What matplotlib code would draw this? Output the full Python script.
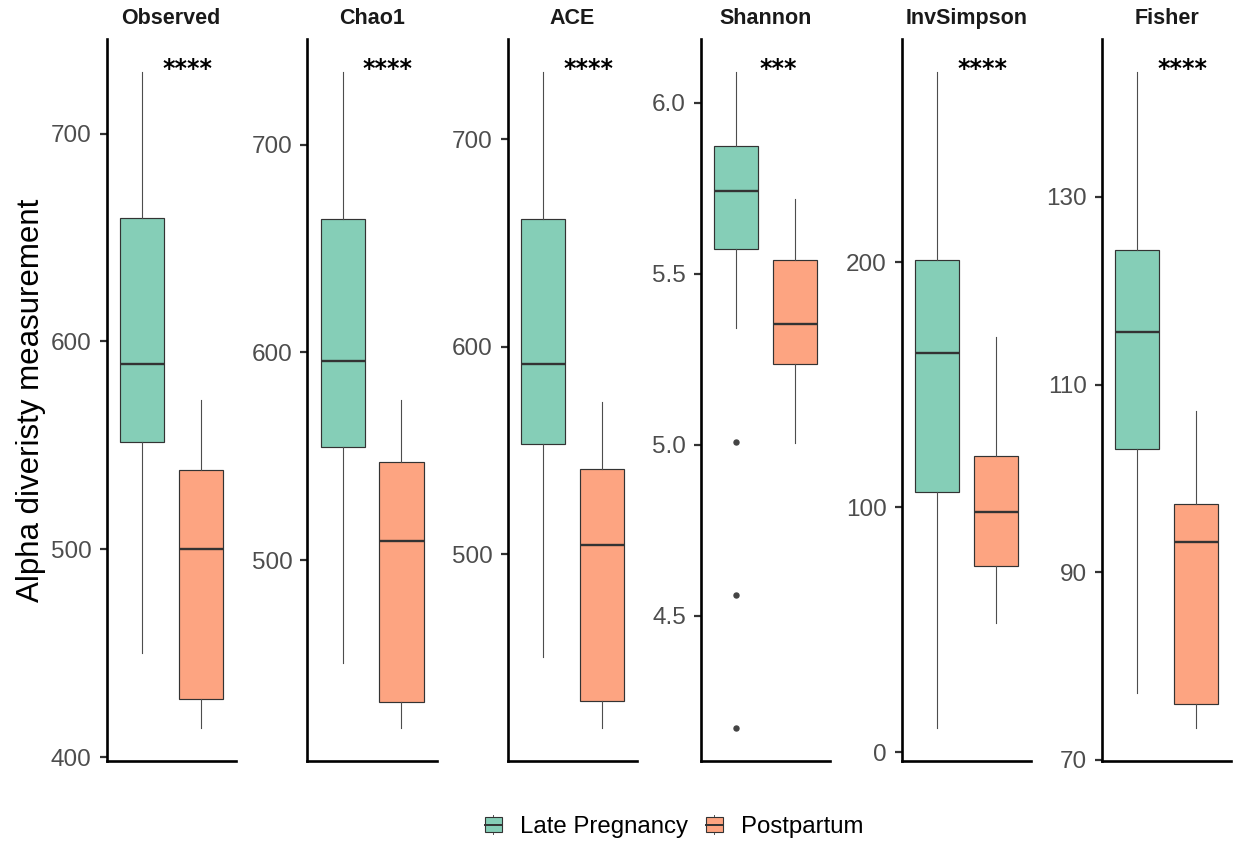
import matplotlib
matplotlib.use("Agg")
import matplotlib.pyplot as plt
from matplotlib.legend_handler import HandlerBase
from matplotlib.patches import Rectangle, Patch
from matplotlib.lines import Line2D
from matplotlib.ticker import FormatStrFormatter

plt.rcParams['font.family'] = ['Liberation Sans', 'DejaVu Sans']

# ---------------- data ----------------
metrics = ["Observed", "Chao1", "ACE", "Shannon", "InvSimpson", "Fisher"]
groups = ["Late Pregnancy", "Postpartum"]

# Late Pregnancy box statistics per metric
lp_whislo = [450.2, 450.5, 450.6, 5.342, 10.0, 77.1]
lp_q1     = [551.6, 554.6, 553.1, 5.572, 106.2, 103.1]
lp_med    = [589.0, 596.0, 591.6, 5.742, 162.9, 115.6]
lp_q3     = [659.2, 664.1, 661.4, 5.873, 201.2, 124.3]
lp_whishi = [729.6, 734.9, 732.4, 6.089, 277.7, 143.3]
lp_fliers = [[], [], [], [5.007, 4.560, 4.173], [], []]

# Postpartum box statistics per metric
pp_whislo = [414.1, 419.2, 416.2, 5.006, 52.7, 73.4]
pp_q1     = [428.2, 431.9, 429.2, 5.235, 76.0, 76.0]
pp_med    = [500.1, 509.1, 504.3, 5.353, 98.3, 93.2]
pp_q3     = [538.4, 547.1, 540.9, 5.541, 120.8, 97.25]
pp_whishi = [571.9, 577.1, 573.2, 5.717, 169.4, 107.2]
pp_fliers = [[], [], [], [], [], []]

signif = ["****", "****", "****", "***", "****", "****"]

yticks = [[400, 500, 600, 700], [500, 600, 700], [500, 600, 700],
          [4.5, 5.0, 5.5, 6.0], [0, 100, 200], [70, 90, 110, 130]]
ytick_fmt = ["%d", "%d", "%d", "%.1f", "%d", "%d"]

colors = ["#66C2A5", "#FC8D62"]

# ---------------- layout ----------------
W, H = 1236, 844
fig = plt.figure(figsize=(W / 100, H / 100), dpi=100)
lefts_px = [106.5, 307.3, 507.5, 700.9, 901.8, 1101.8]
panel_w = 129.5
top_px, bot_px = 39.3, 760.7


def blend(c, a=0.8):
    import matplotlib.colors as mc
    r, g, b = mc.to_rgb(c)
    return (a * r + (1 - a), a * g + (1 - a), a * b + (1 - a))


fills = [blend(c) for c in colors]

for i, m in enumerate(metrics):
    ax = fig.add_axes([lefts_px[i] / W, 1 - bot_px / H, panel_w / W, (bot_px - top_px) / H])
    stats = [
        dict(whislo=lp_whislo[i], q1=lp_q1[i], med=lp_med[i], q3=lp_q3[i],
             whishi=lp_whishi[i], fliers=lp_fliers[i]),
        dict(whislo=pp_whislo[i], q1=pp_q1[i], med=pp_med[i], q3=pp_q3[i],
             whishi=pp_whishi[i], fliers=pp_fliers[i]),
    ]
    bp = ax.bxp(stats, positions=[1, 2], widths=0.75, patch_artist=True,
                showcaps=False,
                boxprops=dict(edgecolor="#333333", linewidth=0.85),
                medianprops=dict(color="#333333", linewidth=1.7),
                whiskerprops=dict(color="#4D4D4D", linewidth=0.8),
                flierprops=dict(marker="o", markersize=3.6, markerfacecolor="#444444",
                                markeredgecolor="#444444", linestyle="none"))
    for patch, fc in zip(bp["boxes"], fills):
        patch.set_facecolor(fc)

    lo = min([lp_whislo[i], pp_whislo[i]] + lp_fliers[i] + pp_fliers[i])
    hi = max([lp_whishi[i], pp_whishi[i]] + lp_fliers[i] + pp_fliers[i])
    r = hi - lo
    ax.set_ylim(lo - 0.05 * r, hi + 0.05 * r)
    ax.set_xlim(0.4, 2.6)
    ax.set_xticks([])
    ax.set_yticks(yticks[i])
    ax.yaxis.set_major_formatter(FormatStrFormatter(ytick_fmt[i]))
    ax.tick_params(axis="y", length=4.8, width=1.6, color="#333333",
                   labelsize=17.5, labelcolor="#4D4D4D", pad=6)
    for s in ["top", "right"]:
        ax.spines[s].set_visible(False)
    for s in ["left", "bottom"]:
        ax.spines[s].set_linewidth(1.9)
        ax.spines[s].set_color("black")
    ax.set_title(m, fontsize=15.5, fontweight="bold", pad=11, color="#1A1A1A")
    sx = 1.77 if len(signif[i]) == 4 else 1.72
    ax.annotate(signif[i], xy=(sx, hi), xytext=(0, 2), textcoords="offset points",
                ha="center", va="center", fontsize=17, fontweight="bold",
                color="black", family="DejaVu Sans")

fig.text(31 / W, 1 - 400 / H, "Alpha diveristy measurement", rotation=90,
         ha="center", va="center", fontsize=22.5, color="black")


class BoxKeyHandler(HandlerBase):
    def create_artists(self, legend, orig_handle, xdescent, ydescent,
                       width, height, fontsize, trans):
        fc = orig_handle.get_facecolor()
        x0 = -xdescent
        y0 = -ydescent
        cx = x0 + width / 2
        wl = Line2D([cx, cx], [y0 - 0.15 * height, y0 + 1.15 * height],
                    color="#555555", linewidth=0.7, transform=trans)
        box = Rectangle((x0, y0), width, height, facecolor=fc,
                        edgecolor="#333333", linewidth=0.8, transform=trans)
        med = Line2D([x0, x0 + width], [y0 + height / 2, y0 + height / 2],
                     color="#333333", linewidth=1.4, transform=trans)
        return [wl, box, med]


handles = [Patch(facecolor=fills[0]), Patch(facecolor=fills[1])]
hmap = {h: BoxKeyHandler() for h in handles}
fig.legend(handles, groups, handler_map=hmap, loc="center",
           bbox_to_anchor=(674 / W, 1 - 827 / H), ncol=2, frameon=False,
           fontsize=17.3, handlelength=0.7, handleheight=0.55,
           handletextpad=0.75, columnspacing=0.75)

fig.savefig("out.png", dpi=100)
